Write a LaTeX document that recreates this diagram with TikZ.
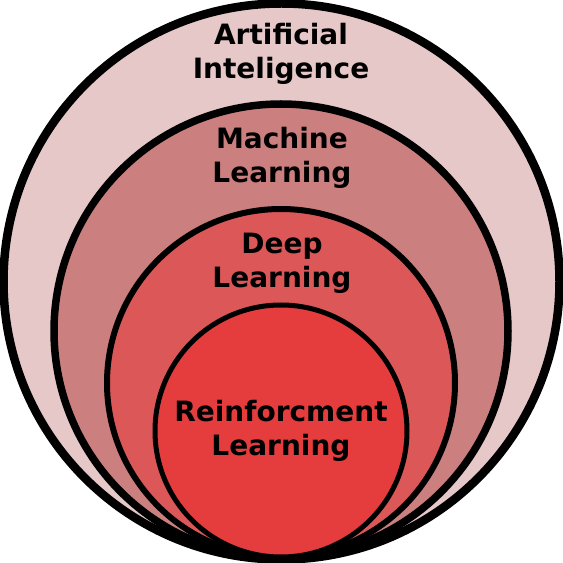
\documentclass[tikz,border=0pt]{standalone}
\usepackage{fontspec}
\setmainfont{DejaVu Sans}
\usetikzlibrary{positioning}

\tikzset{
  field/.style={circle, draw=black, inner sep=0pt},
  caption/.style={align=center, font=\bfseries\fontsize{28}{34}\selectfont},
}

\begin{document}
\begin{tikzpicture}[x=1pt, y=1pt]
            \useasboundingbox (0,0) rectangle (563,563);
            \node[field, fill={rgb,255:red,230;green,200;blue,201}, line width=8.5pt, minimum size=556pt] (ai) at (281.5,281.5) {};
            \node[field, fill={rgb,255:red,204;green,127;blue,127}, line width=7.5pt, minimum size=454pt] (ml) at (281,232) {};
            \node[field, fill={rgb,255:red,220;green,88;blue,88},  line width=6pt,   minimum size=348pt] (dl) at (281,180) {};
            \node[field, fill={rgb,255:red,229;green,61;blue,62},  line width=5pt,   minimum size=252pt] (rl) at (281,132) {};
            \node[caption] (ai_text) at (281,509) {Artificial\\Inteligence};
            \node[caption] (ml_text) at (282,405) {Machine\\Learning};
            \node[caption] (dl_text) at (282,300) {Deep\\Learning};
            \node[caption] (rl_text) at (281,132) {Reinforcment\\Learning};
        \end{tikzpicture}
\end{document}
